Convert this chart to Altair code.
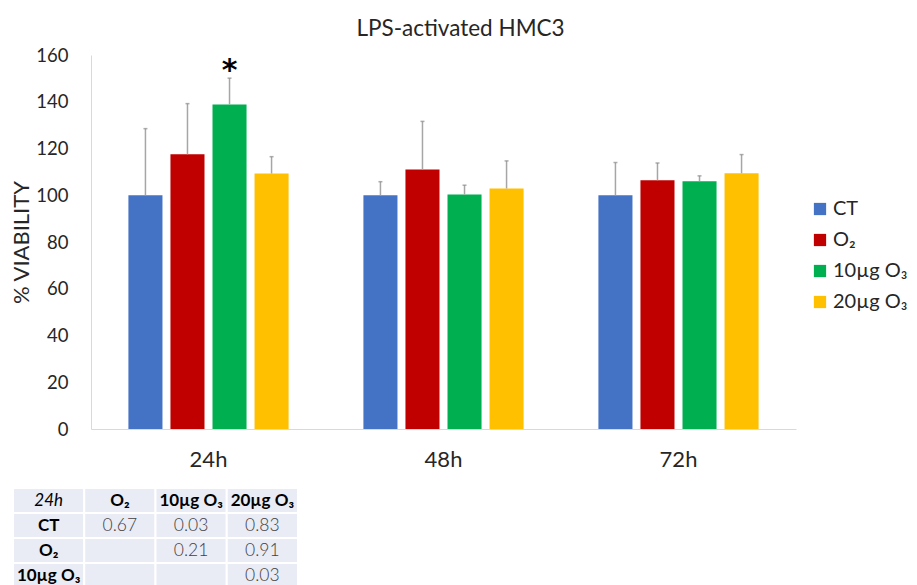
import altair as alt
import pandas as pd

# ---- data ----
times = ["24h", "48h", "72h"]
groups = ["CT", "O₂", "10µg O₃", "20µg O₃"]
colors = ["#4472C4", "#C00000", "#00B050", "#FFC000"]

mean_24h = [100.0, 117.5, 138.8, 109.3]
mean_48h = [100.0, 111.0, 100.3, 102.9]
mean_72h = [100.0, 106.4, 106.0, 109.4]
upper_24h = [128.5, 139.2, 150.1, 116.5]
upper_48h = [105.8, 131.6, 104.3, 114.7]
upper_72h = [114.0, 113.8, 108.3, 117.4]

star_time = "24h"
star_group = "10µg O₃"

table_cols = ["24h", "O₂", "10µg O₃", "20µg O₃"]
table_rows = ["CT", "O₂", "10µg O₃"]
pvals_CT = ["0.67", "0.03", "0.83"]
pvals_O2 = ["", "0.21", "0.91"]
pvals_10 = ["", "", "0.03"]

FONT = "Lato"
TXT = "#262626"

# ---- frames ----
rows = []
for t, m, u in zip(times, [mean_24h, mean_48h, mean_72h], [upper_24h, upper_48h, upper_72h]):
    for g, mv, uv in zip(groups, m, u):
        rows.append({"time": t, "group": g, "mean": mv, "upper": uv})
df = pd.DataFrame(rows)
star_df = df[(df.time == star_time) & (df.group == star_group)].assign(label="*")

x_enc = alt.X("time:N", sort=times, title=None,
              scale=alt.Scale(domain=times, paddingInner=0, paddingOuter=0),
              axis=alt.Axis(labelAngle=0, labelFontSize=22, labelPadding=20, ticks=False,
                            domainColor="#d9d9d9", domainWidth=1, labelColor=TXT, labelFont=FONT))
xo_enc = alt.XOffset("group:N", sort=groups,
                     scale=alt.Scale(domain=groups, paddingInner=0.19, paddingOuter=0.89))
y_scale = alt.Scale(domain=[0, 160], nice=False)

bars = alt.Chart(df).mark_bar().encode(
    x=x_enc, xOffset=xo_enc,
    y=alt.Y("mean:Q", scale=y_scale, title="% VIABILITY",
            axis=alt.Axis(values=[0, 20, 40, 60, 80, 100, 120, 140, 160], grid=False, ticks=False,
                          domainColor="#d9d9d9", domainWidth=1, labelFontSize=18.5, labelFont=FONT,
                          labelColor=TXT, labelPadding=23, titleFont=FONT, titleFontSize=22,
                          titleFontWeight="normal", titleColor=TXT, titlePadding=2)),
    color=alt.Color("group:N", sort=groups, scale=alt.Scale(domain=groups, range=colors),
                    legend=alt.Legend(title=None, orient="none", legendX=719, legendY=144,
                                      symbolType="square", symbolSize=150, symbolStrokeWidth=0,
                                      labelFontSize=20, labelFont=FONT, labelColor=TXT,
                                      rowPadding=11, labelOffset=3, padding=0, labelLimit=300)),
)
err = alt.Chart(df).mark_rule(color="#a6a6a6", strokeWidth=1.5).encode(
    x=x_enc, xOffset=xo_enc, y="mean:Q", y2="upper:Q")
caps = alt.Chart(df).mark_tick(color="#8c8c8c", thickness=1.5, size=4, orient="horizontal").encode(
    x=x_enc, xOffset=xo_enc, y="upper:Q")
star = alt.Chart(star_df).mark_text(fontSize=30, fontWeight="bold", font="DejaVu Sans",
                                     baseline="bottom", dy=8, color="#000000").encode(
    x=x_enc, xOffset=xo_enc, y="upper:Q", text="label:N")

main = alt.layer(bars, err, caps, star)

# ---- table (drawn below the plot, first column left of the plot origin) ----
cells = []
for j, c in enumerate(table_cols):
    cells.append({"r": 0, "c": j, "label": c, "kind": "corner" if j == 0 else "head"})
for i, (rname, pv) in enumerate(zip(table_rows, [pvals_CT, pvals_O2, pvals_10])):
    cells.append({"r": i + 1, "c": 0, "label": rname, "kind": "head"})
    for j, v in enumerate(pv):
        cells.append({"r": i + 1, "c": j + 1, "label": v, "kind": "val"})
tdf = pd.DataFrame(cells)

tx = alt.X("c:O", axis=None, scale=alt.Scale(paddingInner=0, paddingOuter=0, range=[-78, 207]))
ty = alt.Y("r:O", axis=None, scale=alt.Scale(paddingInner=0, paddingOuter=0, range=[433, 533]))
tbase = alt.Chart(tdf).encode(x=tx, y=ty)
trect = tbase.mark_rect(fill="#e9ebf5", stroke="white", strokeWidth=2)
thead = tbase.mark_text(fontSize=17, font=FONT, fontWeight="bold", color="#000000").encode(
    text="label:N").transform_filter(alt.datum.kind == "head")
tcorner = tbase.mark_text(fontSize=17, font=FONT, fontStyle="italic", color="#000000").encode(
    text="label:N").transform_filter(alt.datum.kind == "corner")
tval = tbase.mark_text(fontSize=17.5, font=FONT, fontWeight=300, color="#404040").encode(
    text="label:N").transform_filter(alt.datum.kind == "val")
table = alt.layer(trect, thead, tcorner, tval)

chart = (
    alt.layer(main, table)
    .resolve_scale(x="independent", y="independent")
    .properties(
        width=705, height=374,
        autosize=alt.AutoSizeParams(type="none"),
        padding={"left": 83, "top": 47, "right": 113, "bottom": 156},
        title=alt.TitleParams("LPS-activated HMC3", fontSize=22.5, font=FONT, fontWeight="normal",
                              color=TXT, anchor="middle", dx=17, offset=6),
    )
    .configure_view(stroke=None)
)
chart.save("out.html", embed_options={"renderer": "svg", "actions": False})
